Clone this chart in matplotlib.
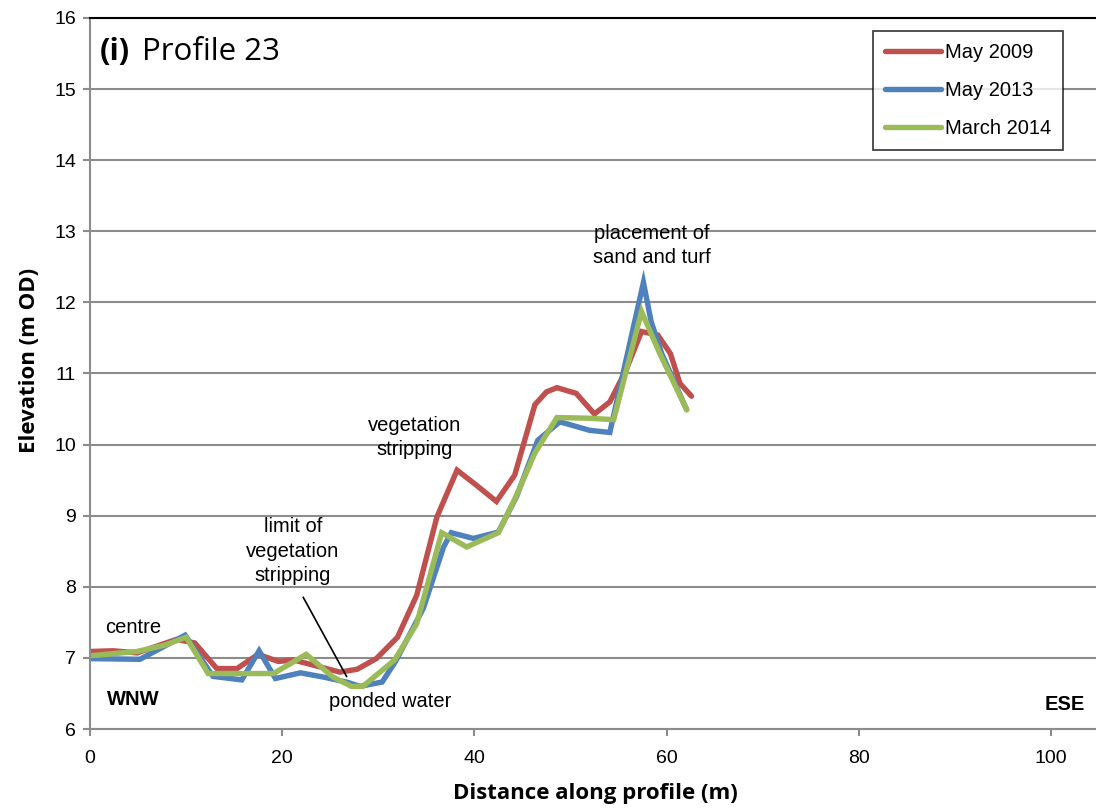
import matplotlib
matplotlib.use("Agg")
import matplotlib.pyplot as plt

# ---- data ----
x_2009 = [0, 2.4, 4.9, 9.0, 10.9, 13.2, 15.3, 17.5, 19.6, 21.2, 23.2, 26.0, 27.8, 29.8, 32.0,
          34.0, 36.1, 38.2, 40.2, 42.3, 44.2, 46.3, 47.5, 48.6, 50.6, 52.5, 54.1, 55.8, 57.4,
          59.1, 60.4, 61.4, 62.6]
y_2009 = [7.09, 7.10, 7.07, 7.26, 7.21, 6.85, 6.85, 7.05, 6.95, 6.97, 6.90, 6.80, 6.84, 6.99, 7.29,
          7.88, 8.98, 9.64, 9.43, 9.20, 9.57, 10.56, 10.74, 10.80, 10.72, 10.43, 10.60, 11.05, 11.59,
          11.54, 11.28, 10.86, 10.68]

x_2013 = [0, 5.2, 9.9, 12.8, 15.8, 17.6, 19.3, 21.9, 24.3, 26.7, 28.1, 30.4, 31.8, 34.7, 36.8,
          37.6, 39.9, 42.5, 44.4, 46.6, 48.9, 52.0, 54.1, 57.6, 58.4, 59.5, 62.1]
y_2013 = [6.99, 6.98, 7.32, 6.74, 6.69, 7.10, 6.71, 6.79, 6.73, 6.66, 6.60, 6.66, 6.95, 7.70, 8.56,
          8.76, 8.68, 8.77, 9.27, 10.06, 10.32, 10.20, 10.17, 12.28, 11.73, 11.28, 10.49]

x_2014 = [0, 4.9, 7.8, 10.0, 12.3, 15.3, 17.5, 19.1, 22.5, 25.3, 27.2, 28.4, 31.7, 34.0, 36.6,
          39.2, 42.5, 44.4, 46.3, 48.6, 52.0, 54.5, 57.4, 59.3, 62.1]
y_2014 = [7.03, 7.09, 7.18, 7.29, 6.78, 6.78, 6.78, 6.78, 7.05, 6.73, 6.60, 6.60, 6.97, 7.48, 8.76,
          8.56, 8.76, 9.29, 9.88, 10.38, 10.37, 10.35, 11.87, 11.28, 10.49]

series_labels = ["May 2009", "May 2013", "March 2014"]
series_colors = ["#C0504D", "#4F81BD", "#9BBB59"]
x_ticks = [0, 20, 40, 60, 80, 100]
y_ticks = [6, 7, 8, 9, 10, 11, 12, 13, 14, 15, 16]

plt.rcParams['font.family'] = ['Liberation Sans', 'DejaVu Sans']
LBL = ['Open Sans', 'DejaVu Sans']

fig = plt.figure(figsize=(10.96, 8.09), dpi=100)
ax = fig.add_axes([90/1096, 1 - 729/809, 1 - 90/1096, (729 - 17.9)/809])

for xs, ys, lab, col in zip([x_2009, x_2013, x_2014], [y_2009, y_2013, y_2014],
                            series_labels, series_colors):
    ax.plot(xs, ys, color=col, lw=3.9, label=lab, solid_joinstyle='miter', solid_capstyle='round')

ax.set_xlim(0, 104.7)
ax.set_ylim(6, 16)
ax.set_xticks(x_ticks)
ax.set_yticks(y_ticks)
ax.yaxis.grid(True, color='#8C8C8C', lw=1.5)
ax.set_axisbelow(True)
ax.tick_params(axis='both', colors='#8C8C8C', labelcolor='black', labelsize=14,
               length=5, width=1.5, direction='out')
ax.tick_params(axis='x', pad=10)
ax.tick_params(axis='y', pad=5)
for s in ['left', 'bottom']:
    ax.spines[s].set_color('#8C8C8C')
    ax.spines[s].set_linewidth(1.5)
ax.spines['top'].set_color('black')
ax.spines['top'].set_linewidth(1.5)
ax.spines['right'].set_visible(False)

ax.set_xlabel("Distance along profile (m)", family=LBL, fontweight='bold', fontsize=16)
ax.set_ylabel("Elevation (m OD)", family=LBL, fontweight='bold', fontsize=16)
ax.xaxis.set_label_coords((595 - 90) / 1006, -(783 - 729) / 711.1)
ax.yaxis.set_label_coords((40 - 90) / 1006, (729 - 360) / 711.1)

leg = ax.legend(loc='upper right', bbox_to_anchor=(1063/1096, 1 - 31/809),
                bbox_transform=fig.transFigure, frameon=True,
                fancybox=False, edgecolor='black', fontsize=14.5, handlelength=2.75,
                handletextpad=0.2, labelspacing=0.95, borderpad=0.6, borderaxespad=0)
leg.get_frame().set_linewidth(1.2)

# title
ax.text(1.05, 15.41, "(i)", fontsize=22, fontweight='bold',
        family=LBL, va='baseline', ha='left')
ax.text(5.4, 15.41, "Profile 23", fontsize=22.5, family=LBL,
        va='baseline', ha='left')

fs = 14.5
ax.text(4.5, 7.43, "centre", fontsize=fs, ha='center', va='center')
ax.text(4.5, 6.41, "WNW", fontsize=fs, fontweight='bold', ha='center', va='center')
ax.text(103.6, 6.35, "ESE", fontsize=fs, fontweight='bold', ha='right', va='center')
ax.text(21.1, 8.5, "limit of\nvegetation\nstripping", fontsize=fs, ha='center', va='center',
        linespacing=1.35)
ax.text(31.2, 6.39, "ponded water", fontsize=fs, ha='center', va='center')
ax.text(33.8, 10.1, "vegetation\nstripping", fontsize=fs, ha='center', va='center',
        linespacing=1.35)
ax.text(58.5, 12.8, "placement of\nsand and turf", fontsize=fs, ha='center', va='center',
        linespacing=1.35)
ax.plot([22.2, 26.7], [7.85, 6.74], color='black', lw=1.2)

fig.savefig("out.png", dpi=100)
